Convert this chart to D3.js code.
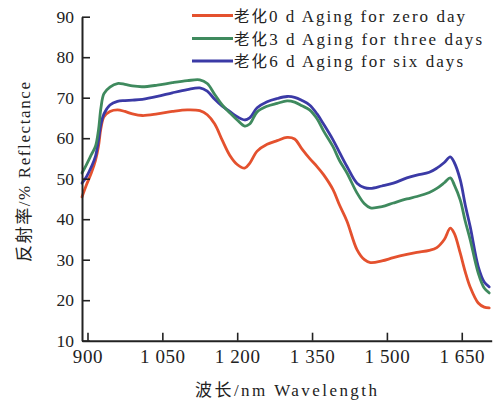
<!DOCTYPE html>
<html><head><meta charset="utf-8">
<script src="https://cdn.jsdelivr.net/npm/d3@7"></script>
<style>
html,body{margin:0;padding:0;background:#fff;}
svg{display:block;font-family:"Liberation Serif",serif;}
.cjk{font-family:"Noto Sans CJK SC",sans-serif;}
</style></head>
<body><svg id="c" width="495" height="406"></svg>
<script>
const wavelengths = [889, 898, 908, 916, 922, 927, 933, 945, 960, 975, 990, 1010, 1040, 1070, 1100, 1125, 1140, 1155, 1170, 1185, 1200, 1215, 1225, 1240, 1260, 1280, 1300, 1315, 1330, 1345, 1360, 1373, 1392, 1405, 1420, 1440, 1455, 1467, 1490, 1513, 1540, 1560, 1585, 1600, 1615, 1627, 1635, 1647, 1657, 1667, 1683, 1695, 1705];
const aging0 = [45.5, 48.5, 51.5, 54.5, 58, 62.5, 65.3, 66.6, 67, 66.6, 66, 65.6, 66, 66.6, 67, 66.8, 65.8, 63.5, 59.5, 55.8, 53.5, 52.6, 53.8, 56.8, 58.5, 59.4, 60.2, 59.8, 57.3, 55, 53, 51, 47.3, 43.5, 39.5, 32.5, 30, 29.3, 29.7, 30.5, 31.3, 31.8, 32.3, 33, 35, 37.8, 36.5, 31.6, 27, 23.2, 19.3, 18.3, 18.1];
const aging3 = [51.4, 53.5, 56, 58, 62, 67.5, 71, 72.6, 73.5, 73.3, 72.9, 72.7, 73.1, 73.7, 74.2, 74.4, 73.5, 70.8, 68.2, 66.3, 64.5, 63, 63.5, 66.5, 67.9, 68.6, 69.2, 68.9, 68, 67, 64.8, 61.8, 57.9, 54.5, 51.4, 46.5, 43.8, 42.8, 43.1, 44, 45, 45.6, 46.6, 47.6, 49, 50.2, 48.5, 44.7, 39.5, 34.9, 26.7, 23, 21.8];
const aging6 = [48.9, 50.5, 53, 55.5, 59.5, 63.5, 66, 68.2, 69.1, 69.3, 69.4, 69.6, 70.3, 71.2, 72, 72.4, 71.6, 69.6, 67.9, 66.6, 65.3, 64.5, 65, 67.5, 69, 69.8, 70.3, 70.1, 69.3, 68.2, 66, 63.5, 59.6, 56.5, 53, 48.9, 47.8, 47.6, 48.2, 48.9, 50.2, 50.9, 51.6, 52.6, 54, 55.4, 54, 49.7, 43.5, 38.1, 28.3, 24.5, 23.3];
const seriesCJK = ["老化", "老化", "老化"];
const seriesLatin = ["0 d Aging for zero day", "3 d Aging for three days", "6 d Aging for six days"];
const seriesColors = ["#e4512e", "#3f8a5e", "#3b3aa6"];
const xTicks = [900, 1050, 1200, 1350, 1500, 1650];
const xTickLabels = ["900", "1 050", "1 200", "1 350", "1 500", "1 650"];
const yTicks = [10, 20, 30, 40, 50, 60, 70, 80, 90];
const xTitleCJK = "波长", xTitleLatin = "/nm Wavelength";
const yTitleCJK = "反射率", yTitleLatin = "/% Reflectance";

const svg = d3.select("#c");
const x = d3.scaleLinear().domain([889, 1710]).range([82, 491.7]);
const y = d3.scaleLinear().domain([10, 90]).range([340.7, 16.7]);
const ink = "#222";

// curves
const allSeries = [aging0, aging3, aging6];
const line = d3.line().x((d, i) => x(wavelengths[i])).y(d => y(d)).curve(d3.curveCatmullRom.alpha(0.5));
[0, 2, 1].forEach(k => {
  svg.append("path").datum(allSeries[k]).attr("d", line)
    .attr("fill", "none").attr("stroke", seriesColors[k]).attr("stroke-width", 2.8)
    .attr("stroke-linejoin", "round").attr("stroke-linecap", "round");
});

// x axis
const xAxis = d3.axisBottom(x).tickValues(xTicks).tickSizeInner(-8).tickSizeOuter(0)
  .tickFormat((d, i) => xTickLabels[i]);
const gx = svg.append("g").attr("transform", `translate(0,${y(10)})`).call(xAxis);
gx.select(".domain").attr("stroke", ink).attr("stroke-width", 2);
gx.selectAll(".tick line").attr("stroke", ink).attr("stroke-width", 1.6);
gx.selectAll(".tick text").attr("font-size", 19).attr("fill", ink).attr("y", 9)
  .attr("font-family", "Liberation Serif").attr("letter-spacing", 0.6);

// y axis
const yAxis = d3.axisLeft(y).tickValues(yTicks).tickSizeInner(-8).tickSizeOuter(0);
const gy = svg.append("g").attr("transform", `translate(${x(889)},0)`).call(yAxis);
gy.select(".domain").attr("stroke", ink).attr("stroke-width", 2);
gy.selectAll(".tick line").attr("stroke", ink).attr("stroke-width", 1.6);
gy.selectAll(".tick text").attr("font-size", 17.5).attr("fill", ink).attr("x", -8)
  .attr("font-family", "Liberation Serif");

function mixed(sel, cjk, latin, cjkSize) {
  sel.append("tspan").attr("class", "cjk").attr("font-size", cjkSize).text(cjk);
  sel.append("tspan").text(latin);
}

// legend
const legendY = [15.5, 38.5, 61];
seriesLatin.forEach((name, i) => {
  svg.append("line").attr("x1", 192).attr("x2", 233).attr("y1", legendY[i]).attr("y2", legendY[i])
    .attr("stroke", seriesColors[i]).attr("stroke-width", 3);
  const t = svg.append("text").attr("x", 234).attr("y", legendY[i] + 6).attr("font-size", 17).attr("fill", ink)
    .attr("textLength", [231, 248, 229][i]).attr("lengthAdjust", "spacing");
  mixed(t, seriesCJK[i], name, 15.5);
});

// titles
const xt = svg.append("text").attr("x", 195).attr("y", 396).attr("font-size", 17).attr("fill", ink)
  .attr("textLength", 182).attr("lengthAdjust", "spacing");
mixed(xt, xTitleCJK, xTitleLatin, 17);
const yt = svg.append("text").attr("transform", "translate(30,262) rotate(-90)").attr("font-size", 17).attr("fill", ink)
  .attr("textLength", 180).attr("lengthAdjust", "spacing");
mixed(yt, yTitleCJK, yTitleLatin, 17);
</script></body></html>
